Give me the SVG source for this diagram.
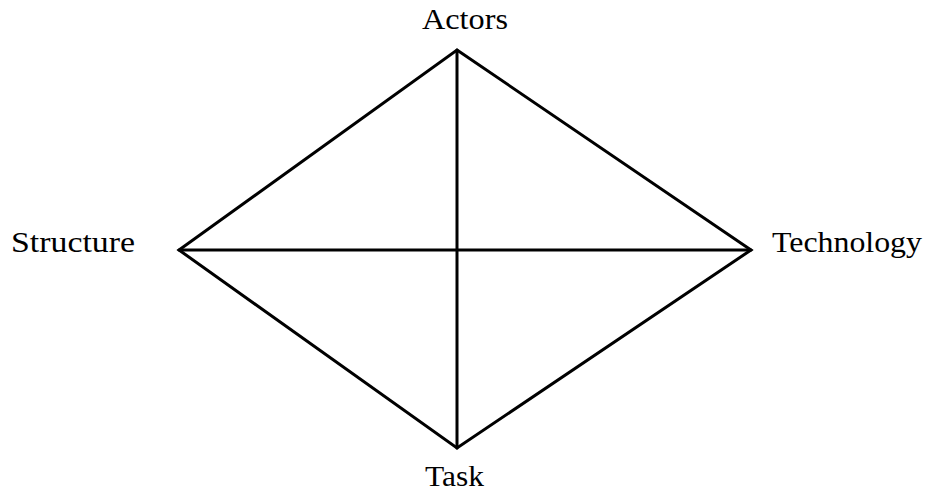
<svg xmlns="http://www.w3.org/2000/svg" width="934" height="495" viewBox="0 0 934 495">
<style>
.lbl{font-family:"Liberation Serif","Times New Roman",serif;font-size:29px;fill:#000}
.edge{stroke:#000;stroke-width:3;fill:none;stroke-linecap:round;stroke-linejoin:miter}
</style>
<rect width="934" height="495" fill="#fff"/>
<g id="connectors">
<polygon class="edge" points="457,50 751,250 457,448 179,250"/>
<line class="edge" x1="457" y1="50" x2="457" y2="448"/>
<line class="edge" x1="179" y1="250" x2="751" y2="250"/>
</g>
<g id="actors"><text class="lbl" x="422" y="29" textLength="86" lengthAdjust="spacingAndGlyphs">Actors</text></g>
<g id="structure"><text class="lbl" x="11" y="252" textLength="124" lengthAdjust="spacingAndGlyphs">Structure</text></g>
<g id="technology"><text class="lbl" x="772" y="252" textLength="150" lengthAdjust="spacingAndGlyphs">Technology</text></g>
<g id="task"><text class="lbl" x="425" y="486" textLength="59" lengthAdjust="spacingAndGlyphs">Task</text></g>
</svg>
